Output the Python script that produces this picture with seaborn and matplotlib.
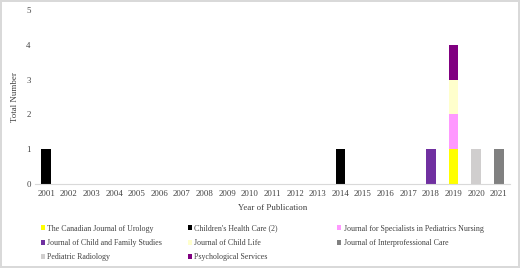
import pandas as pd
import matplotlib.pyplot as plt
import seaborn as sns
from matplotlib.patches import Patch

years = list(range(2001, 2022))
journals = ["The Canadian Journal of Urology", "Children's Health Care (2)",
            "Journal for Specialists in Pediatrics Nursing", "Journal of Child and Family Studies",
            "Journal of Child Life", "Journal of Interprofessional Care",
            "Pediatric Radiology", "Psychological Services"]
colors = ["#FFFF00", "#000000", "#FF99FF", "#7030A0", "#FFFFCC", "#808080", "#D0CECE", "#800080"]
# (journal, year, count)
pub_journal = ["Children's Health Care (2)", "Children's Health Care (2)",
               "Journal of Child and Family Studies", "The Canadian Journal of Urology",
               "Journal for Specialists in Pediatrics Nursing", "Journal of Child Life",
               "Psychological Services", "Pediatric Radiology", "Journal of Interprofessional Care"]
pub_year = [2001, 2014, 2018, 2019, 2019, 2019, 2019, 2020, 2021]
pub_count = [1, 1, 1, 1, 1, 1, 1, 1, 1]

df = pd.DataFrame({"Journal": pub_journal, "Year": pub_year, "Count": pub_count})
palette = dict(zip(journals, colors))

sns.set_theme(style="white")
plt.rcParams["font.family"] = ["Liberation Serif", "DejaVu Serif"]
txt = "#404040"

fig = plt.figure(figsize=(5.2, 2.68), dpi=100)
fig.patch.set_edgecolor("#D9D9D9")
fig.patch.set_linewidth(1.5)
ax = fig.add_axes([0.067, 0.313, 0.914, 0.65])

# seaborn stacks last hue level at the bottom, so reverse the order
sns.histplot(data=df, x="Year", weights="Count", hue="Journal", hue_order=journals[::-1],
             palette=palette, multiple="stack", discrete=True, shrink=0.43,
             linewidth=0, alpha=1, legend=False, ax=ax)

ax.set_xlim(2000.5, 2021.5)
ax.set_ylim(0, 5)
ax.set_xticks(years)
ax.set_xticklabels([str(y) for y in years])
ax.set_yticks(range(0, 6))
ax.tick_params(axis="both", labelsize=6.3, colors=txt, length=0, pad=3)
ax.tick_params(axis="x", pad=4.5)
ax.set_xlabel("Year of Publication", fontsize=6.4, color=txt, labelpad=4)
ax.set_ylabel("Total Number", fontsize=6.4, color=txt, labelpad=5)
for s in ["top", "right", "left"]:
    ax.spines[s].set_visible(False)
ax.spines["bottom"].set_color("#D9D9D9")
ax.spines["bottom"].set_linewidth(0.8)

handles = [Patch(facecolor=palette[j], edgecolor="none") for j in journals]
cols = [[0, 3, 6], [1, 4, 7], [2, 5]]
xs = [0.078, 0.361, 0.648]
for xpos, idx in zip(xs, cols):
    fig.legend([handles[i] for i in idx], [journals[i] for i in idx],
               loc="upper left", bbox_to_anchor=(xpos, 0.162), frameon=False,
               fontsize=5.7, handlelength=0.55, handleheight=0.55, handletextpad=0.3,
               labelspacing=0.8, borderaxespad=0, borderpad=0, labelcolor=txt)

fig.savefig("out.png", dpi=100)
